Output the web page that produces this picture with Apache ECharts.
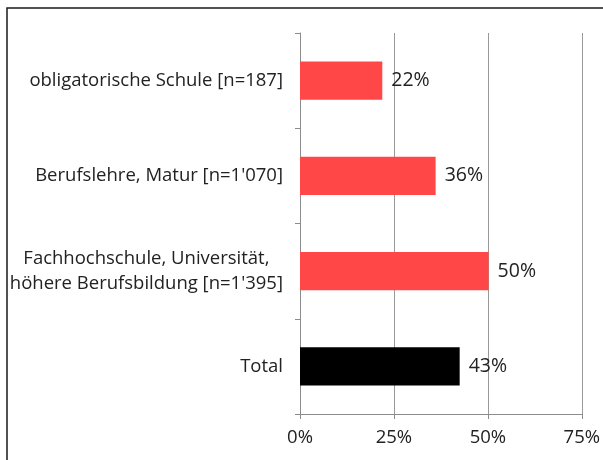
<!DOCTYPE html>
<html>
<head>
<meta charset="utf-8">
<script src="https://cdn.jsdelivr.net/npm/echarts@6/dist/echarts.min.js"></script>
<style>
  html, body { margin: 0; padding: 0; background: #fff; }
  #chart { width: 603px; height: 460px; }
</style>
</head>
<body>
<div id="chart"></div>
<script>
const categories = [
  'obligatorische Schule [n=187]',
  'Berufslehre, Matur [n=1\'070]',
  'Fachhochschule, Universität,\nhöhere Berufsbildung [n=1\'395]',
  'Total'
]
const values = [21.9, 36.1, 50.2, 42.5]
const barColors = ['#ff4747', '#ff4747', '#ff4747', '#000000']
const xTicks = [0, 25, 50, 75]

const fontFamily = '"Open Sans", sans-serif'

const chart = echarts.init(document.getElementById('chart'))

const option = {
  backgroundColor: '#ffffff',
  animation: false,
  graphic: [
    {
      type: 'rect',
      shape: { x: 7, y: 8, width: 640, height: 500 },
      style: { fill: 'none', stroke: '#1a1a1a', lineWidth: 1.5 },
      silent: true
    }
  ],
  grid: {
    left: 300,
    right: 21,
    top: 33,
    bottom: 46
  },
  xAxis: {
    type: 'value',
    min: xTicks[0],
    max: xTicks[xTicks.length - 1],
    interval: 25,
    axisLine: { show: true, lineStyle: { color: '#8c8c8c', width: 1 } },
    axisTick: { show: true, length: 5, lineStyle: { color: '#8c8c8c' } },
    axisLabel: {
      color: '#222',
      fontSize: 18.5,
      fontFamily: fontFamily,
      margin: 14,
      formatter: v => v + '%'
    },
    splitLine: { show: true, lineStyle: { color: '#999999', width: 1 } }
  },
  yAxis: {
    type: 'category',
    inverse: true,
    data: categories,
    axisLine: { show: true, lineStyle: { color: '#8c8c8c', width: 1 } },
    axisTick: { show: true, length: 5, lineStyle: { color: '#8c8c8c' } },
    axisLabel: {
      color: '#222',
      fontSize: 18.5,
      fontFamily: fontFamily,
      margin: 17,
      lineHeight: 25,
      formatter: v => v.split('\n').map(s => '{c|' + s + '}').join('\n'),
      rich: {
        c: { align: 'center', fontSize: 18.5, fontFamily: fontFamily, color: '#222', lineHeight: 25 }
      }
    }
  },
  series: [
    {
      type: 'bar',
      barWidth: '40%',
      data: values.map((v, i) => ({ value: v, itemStyle: { color: barColors[i] } })),
      label: {
        show: true,
        position: 'right',
        distance: 9,
        color: '#222',
        fontSize: 19.5,
        fontFamily: fontFamily,
        formatter: p => Math.round(p.value) + '%'
      }
    }
  ]
}

chart.setOption(option)
window.addEventListener('resize', () => chart.resize())
</script>
</body>
</html>
